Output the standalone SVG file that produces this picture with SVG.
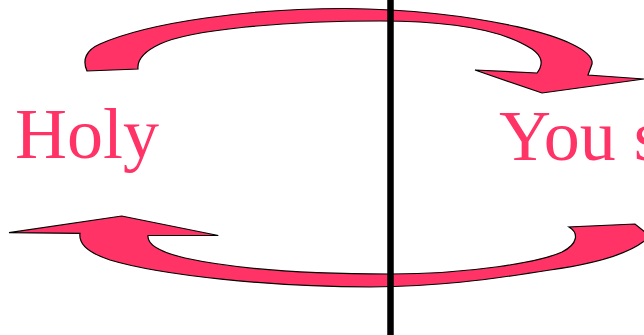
<svg xmlns="http://www.w3.org/2000/svg" width="644" height="335" viewBox="0 0 644 335">
  <style>
    .arrow { fill: #FF3366; stroke: #000000; stroke-width: 1.2; stroke-linejoin: miter; }
    .label { fill: #FF3366; font-family: "Liberation Serif", "Times New Roman", serif; font-size: 72px; }
    .divider { stroke: #000000; stroke-width: 6.5; fill: none; }
  </style>
  <rect width="644" height="335" fill="#FFFFFF"/>
  <g id="connectors">
    <path id="arrow-top" class="arrow" d="M 87,71 C 82,60 86,50 100,44 C 150,22 250,8.5 345,8.5 C 470,9 596,38 592,64 L 588,75 L 644,79 L 542,93 L 475,70 L 537,73 C 544,64 542,56 532,49 C 500,28 440,21 380,21 C 280,21 190,30 160,44 C 145,51 137,60 138,69 Z"/>
    <path id="arrow-bottom" class="arrow" d="M 9,232.7 L 121.7,216 L 218.3,235.5 L 148,235.5 C 147,245 160,252 185,258 C 240,270 310,274 390,274 C 470,274 540,262 562,252 C 578,244 579,233 569,227 L 635,224 L 650,236 C 635,252 600,263 550,270 C 480,281 440,286 370,287 C 270,287 160,275 110,260 C 95,255 78,247 80,233.3 Z"/>
  </g>
  <g id="divider">
    <line class="divider" x1="390.5" y1="0" x2="390.5" y2="335"/>
  </g>
  <g id="node-holy">
    <text class="label" x="15" y="158">Holy</text>
  </g>
  <g id="node-you">
    <text class="label" x="499" y="160">You s</text>
  </g>
</svg>
